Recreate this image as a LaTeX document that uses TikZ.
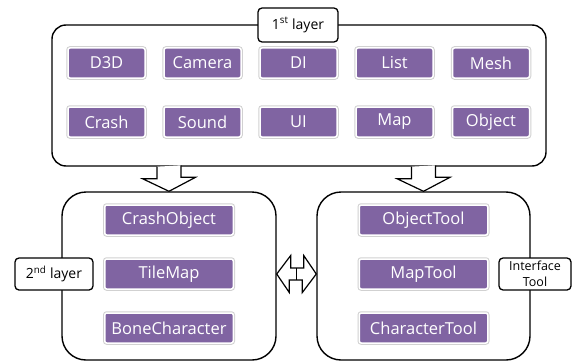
\documentclass[tikz,border=0pt]{standalone}
\usepackage{fontspec}
\setmainfont{Open Sans}
\usetikzlibrary{calc}
\definecolor{itempurple}{RGB}{128,100,162}
\tikzset{
  layerbox/.style={draw, line width=1.4pt, rounded corners=14pt, fill=white},
  item/.style={fill=itempurple, draw=white, line width=1.5pt, rounded corners=2pt,
    text=white, font=\fontsize{16.5}{19}\selectfont, inner sep=0pt, minimum height=30pt,
    preaction={draw=black!18, line width=3.5pt}},
  tag/.style={draw, fill=white, line width=1.3pt, rounded corners=4pt, align=center,
    inner sep=0pt, font=\fontsize{14}{15.5}\selectfont},
  fatarrow/.style={draw, fill=white, line width=1.2pt, line join=miter}
}
\begin{document}
\begin{tikzpicture}[x=1pt, y=-1pt]
      \useasboundingbox (0,0) rectangle (572,361);
      % first layer
      \node[layerbox, minimum width=494pt, minimum height=141pt] (layer1) at (299,95.5) {};
      \node[tag, minimum width=80pt, minimum height=34pt] (tag1) at (298,25) {1\textsuperscript{st} layer};
      \draw
        (106.5,63) node[item, minimum width=77pt] (d3d){D3D}
        (202.5,63) node[item, minimum width=77pt] (camera){Camera}
        (298.5,63) node[item, minimum width=77pt] (di){DI}
        (394.5,63) node[item, minimum width=77pt] (list){List}
        (491,63) node[item, minimum width=77pt] (mesh){Mesh}
        (106.5,122) node[item, minimum width=77pt] (crash){Crash}
        (202.5,122) node[item, minimum width=77pt] (sound){Sound}
        (298.5,122) node[item, minimum width=77pt] (ui){UI}
        (394.5,122) node[item, minimum width=77pt] (map){Map}
        (491,122) node[item, minimum width=77pt] (object){Object};
      % second layer and tools
      \node[layerbox, rounded corners=24pt, minimum width=214pt, minimum height=168pt] (layer2) at (169,276) {};
      \node[layerbox, rounded corners=24pt, minimum width=213pt, minimum height=168pt] (tool) at (423.5,276) {};
      \draw
        (169,220) node[item, minimum width=128.5pt] (crashobj){CrashObject}
        (169,274) node[item, minimum width=128.5pt] (tilemap){TileMap}
        (169,328) node[item, minimum width=128.5pt] (bonechar){BoneCharacter}
        (423.5,220) node[item, minimum width=128.5pt] (objtool){ObjectTool}
        (423.5,274) node[item, minimum width=128.5pt] (maptool){MapTool}
        (423.5,328) node[item, minimum width=128.5pt] (chartool){CharacterTool};
      \node[tag, minimum width=78pt, minimum height=32pt] (tag2) at (54,274) {2\textsuperscript{nd} layer};
      \node[tag, minimum width=72pt, minimum height=32pt, font=\fontsize{12.5}{15.5}\selectfont] (tag3) at (535,274) {Interface\\Tool};
      % arrows
      \coordinate (dl) at (layer2.north |- layer1.south);
      \coordinate (dr) at (tool.north |- layer1.south);
      \draw[fatarrow] (dl) ++(-12,0) -- ++(0,12) -- ++(-14.5,0) -- (layer2.north)
        -- ++(26.5,-14) -- ++(-14.5,0) -- ++(0,-12);
      \draw[fatarrow] (dr) ++(-12,0) -- ++(0,12) -- ++(-14.5,0) -- (tool.north)
        -- ++(26.5,-14) -- ++(-14.5,0) -- ++(0,-12);
      \coordinate (la) at ($(layer2.east)+(0,-2)$);
      \coordinate (ra) at ($(tool.west)+(0,-2)$);
      \draw[fatarrow] (la) -- ++(14,-18.5) -- ++(0,12.5) -- ++(13,0) -- ++(0,-12.5)
        -- (ra) -- ++(-14,18.5) -- ++(0,-12.5) -- ++(-13,0) -- ++(0,12.5) -- cycle;
      \draw[line width=1.2pt] ($(la)!0.5!(ra)+(0,-6)$) -- ++(0,12);
    \end{tikzpicture}
\end{document}
